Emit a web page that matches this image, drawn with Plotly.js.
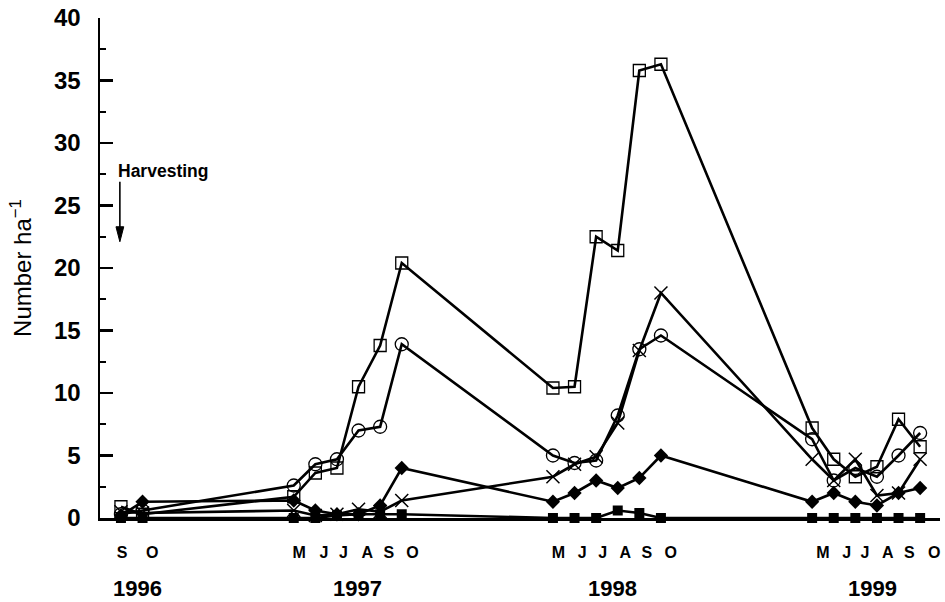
<!DOCTYPE html>
<html>
<head>
<meta charset="utf-8">
<script src="https://cdn.plot.ly/plotly-3.0.1.min.js"></script>
<style>html,body{margin:0;padding:0;background:#fff;}#chart{width:945px;height:602px;}</style>
</head>
<body>
<div id="chart"></div>
<script>
// month index (Jan 1996 = 0): S96, O96, M-O 1997, M-O 1998, M-O 1999
const months = [8, 9, 16, 17, 18, 19, 20, 21, 28, 29, 30, 31, 32, 33, 40, 41, 42, 43, 44, 45];
const monthLabels = ['S','O','M','J','J','A','S','O','M','J','J','A','S','O','M','J','J','A','S','O'];
const years = ['1996', '1997', '1998', '1999'];

const openSquares  = [0.9, 0.3, 1.7, 3.6, 4.0, 10.5, 13.8, 20.4, 10.4, 10.5, 22.5, 21.4, 35.8, 36.3, 7.2, 4.7, 3.3, 4.1, 7.9, 5.7];
const openCircles  = [0.3, 0.6, 2.6, 4.3, 4.7, 7.0, 7.3, 13.9, 5.0, 4.4, 4.6, 8.2, 13.5, 14.6, 6.3, 3.0, 4.0, 3.3, 5.0, 6.8];
const crosses      = [0.5, 0.4, 0.6, 0.2, 0.3, 0.7, 0.5, 1.4, 3.3, 4.3, 4.9, 7.6, 13.4, 18.0, 4.7, 3.0, 4.7, 1.8, 2.0, 4.7];
const diamonds     = [0.2, 1.3, 1.4, 0.6, 0.3, 0.3, 1.0, 4.0, 1.3, 2.0, 3.0, 2.4, 3.2, 5.0, 1.3, 2.0, 1.3, 1.0, 2.0, 2.4];
const filledSquares= [0.0, 0.0, 0.0, 0.0, 0.2, 0.3, 0.3, 0.3, 0.0, 0.0, 0.0, 0.6, 0.4, 0.0, 0.0, 0.0, 0.0, 0.0, 0.0, 0.0];

const FONT = 'Arial, "Liberation Sans", Helvetica, sans-serif';
const labelOffsets = [0.05, 0.45, 0.25, 0.4, 0.3, 0.4, 0.4, 0.5, 0.25, 0.35, 0.3, 0.35, 0.35, 0.45, 0.5, 0.6, 0.45, 0.5, 0.5, 0.65];
const tickPos = months.map((m, i) => m + labelOffsets[i]);
const yearPos = [8.75, 18.93, 30.78, 42.8];

function series(y, symbol, size, lw) {
  return {
    x: months, y: y, type: 'scatter', mode: 'lines+markers', cliponaxis: false,
    line: {color: '#000', width: 2.6},
    marker: {symbol: symbol, size: size, color: '#000', line: {color: '#000', width: lw}},
    showlegend: false
  };
}

const traces = [
  series(filledSquares, 'square', 10, 0),
  series(diamonds, 'diamond', 11, 0),
  series(crosses, 'x-thin-open', 13, 1.5),
  series(openCircles, 'circle-open', 13, 1.3),
  series(openSquares, 'square-open', 12, 1.3)
];

const annotations = years.map((yr, i) => ({
  text: '<b>' + yr + '</b>', x: yearPos[i], xref: 'x', y: -0.14, yref: 'paper',
  showarrow: false, xanchor: 'center', yanchor: 'middle',
  font: {family: FONT, size: 22, color: '#000'}
}));
annotations.push({
  text: '<b>Harvesting</b>', x: 7.78, xref: 'x', y: 27.8, yref: 'y',
  showarrow: false, xanchor: 'left', yanchor: 'middle',
  font: {family: FONT, size: 17.5, color: '#000'}
});

const shapes = [
  {type: 'line', xref: 'x', yref: 'y', x0: 7.95, x1: 7.95, y0: 26.9, y1: 23.0,
   line: {color: '#000', width: 1.6}},
  {type: 'path', xref: 'x', yref: 'y', path: 'M 7.77 23.3 L 8.13 23.3 L 7.95 22.1 Z',
   fillcolor: '#000', line: {color: '#000', width: 1}}
];

const layout = {
  width: 945, height: 602,
  margin: {l: 100, r: 5, t: 18, b: 84},
  paper_bgcolor: '#fff', plot_bgcolor: '#fff',
  font: {family: FONT, color: '#000'},
  xaxis: {
    range: [7.03, 45.92], showgrid: false, zeroline: false,
    showline: true, linecolor: '#000', linewidth: 2.5,
    ticks: '', tickmode: 'array', tickvals: tickPos, ticktext: monthLabels.map(s => '<b>' + s + '</b>'),
    tickfont: {family: FONT, size: 16, color: '#000'}, ticklabelstandoff: 18
  },
  yaxis: {
    range: [0, 40], showgrid: false, zeroline: false,
    showline: true, linecolor: '#000', linewidth: 2.5,
    ticks: 'inside', ticklen: 13, tickwidth: 2.5, tickcolor: '#000',
    tickmode: 'linear', tick0: 0, dtick: 5,
    minor: {dtick: 2.5, ticks: 'inside', ticklen: 6, tickwidth: 2, tickcolor: '#000'},
    tickfont: {family: FONT, size: 24, color: '#000'}, ticklabelstandoff: 12,
    tickprefix: '<b>', ticksuffix: '</b>',
    title: {text: 'Number ha<sup>−1</sup>', font: {family: FONT, size: 24, color: '#000'}, standoff: 16}
  },
  annotations: annotations,
  shapes: shapes
};

Plotly.newPlot('chart', traces, layout, {displayModeBar: false, staticPlot: true});
</script>
</body>
</html>
